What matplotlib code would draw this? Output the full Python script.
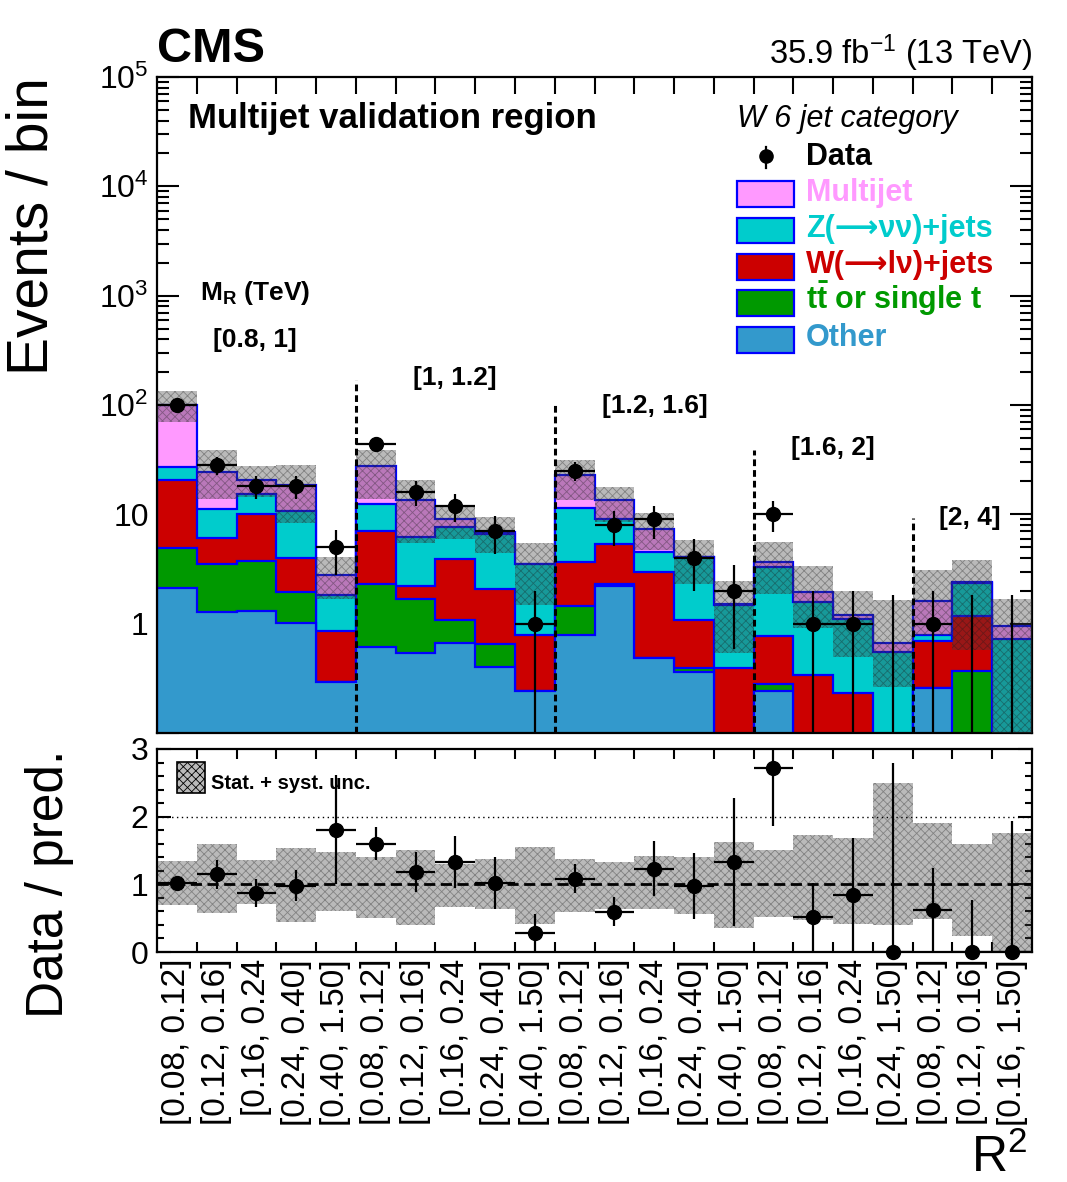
import numpy as np
import matplotlib
matplotlib.use('Agg')
import matplotlib.pyplot as plt
from matplotlib.ticker import FixedLocator, NullFormatter, FixedFormatter, MultipleLocator, LogLocator
from matplotlib.patches import Rectangle
from matplotlib.lines import Line2D

plt.rcParams['font.family'] = ['Liberation Sans', 'DejaVu Sans']
plt.rcParams['mathtext.fontset'] = 'custom'
plt.rcParams['mathtext.rm'] = 'Liberation Sans'
plt.rcParams['mathtext.it'] = 'Liberation Sans:italic'
plt.rcParams['mathtext.bf'] = 'Liberation Sans:bold'
plt.rcParams['hatch.linewidth'] = 0.6

# ---------------- data ----------------
r2_labels = [
    "[0.08, 0.12]", "[0.12, 0.16]", "[0.16, 0.24", "[0.24, 0.40]", "[0.40, 1.50]",
    "[0.08, 0.12]", "[0.12, 0.16]", "[0.16, 0.24", "[0.24, 0.40]", "[0.40, 1.50]",
    "[0.08, 0.12]", "[0.12, 0.16]", "[0.16, 0.24", "[0.24, 0.40]", "[0.40, 1.50]",
    "[0.08, 0.12]", "[0.12, 0.16]", "[0.16, 0.24", "[0.24, 1.50]",
    "[0.08, 0.12]", "[0.12, 0.16]", "[0.16, 1.50]",
]
mr_labels = ["[0.8, 1]", "[1, 1.2]", "[1.2, 1.6]", "[1.6, 2]", "[2, 4]"]

data = [101, 28, 18, 18, 5, 44, 16, 12, 7, 1, 25, 8, 9, 4, 2, 10, 1, 1, 0, 1, 0, 0]
zero_count_up = 1.84  # upper error shown for empty bins

other = [2.14, 1.28, 1.30, 1.01, 0.29, 0.61, 0.54, 0.67, 0.40, 0.24, 0.79, 2.19, 0.49, 0.36, 0.0,
         0.24, 0.0, 0.0, 0.0, 0.26, 0.0, 0.0]
ttbar = [2.79, 2.21, 2.47, 0.94, 0.0, 1.68, 1.13, 0.40, 0.25, 0.0, 0.66, 0.13, 0.0, 0.03, 0.0,
         0.04, 0.0, 0.0, 0.0, 0.0, 0.37, 0.0]
wjets = [15.6, 2.63, 6.33, 2.05, 0.56, 4.76, 0.54, 2.86, 1.41, 0.54, 2.22, 3.08, 2.51, 0.70, 0.39,
         0.49, 0.34, 0.23, 0.0, 0.43, 0.81, 0.0]
zjets = [6.7, 5.18, 5.4, 6.7, 0.99, 5.45, 3.99, 3.73, 4.6, 2.72, 7.73, 3.7, 1.5, 2.96, 1.09,
         2.53, 1.24, 0.88, 0.55, 0.10, 1.19, 0.73]
multijet = [72.4, 13.1, 5.0, 7.7, 0.93, 15.0, 7.4, 1.34, 0.24, 0.05, 11.7, 4.3, 2.8, 0.05, 0.02,
            0.37, 0.37, 0.08, 0.11, 0.82, 0.03, 0.22]

# relative (stat. + syst.) uncertainty band on the prediction
band_lo = [0.70, 0.57, 0.71, 0.45, 0.61, 0.50, 0.40, 0.66, 0.64, 0.42, 0.59, 0.64, 0.64, 0.56, 0.36,
           0.51, 0.47, 0.42, 0.40, 0.49, 0.24, 0.02]
band_hi = [1.34, 1.60, 1.36, 1.54, 1.48, 1.40, 1.51, 1.30, 1.38, 1.55, 1.37, 1.33, 1.42, 1.41, 1.63,
           1.51, 1.73, 1.68, 2.50, 1.91, 1.60, 1.76]

proc_names = ["Other", r"t$\mathbf{\bar{t}}$ or single t", "W(\u27f6l\u03bd)+jets",
              "Z(\u27f6\u03bd\u03bd)+jets", "Multijet"]
proc_colors = ['#3399cc', '#009900', '#cc0000', '#00cccc', '#ff99ff']

# ---------------- figure ----------------
W, H = 1067, 1182
fig = plt.figure(figsize=(W / 100, H / 100), dpi=100)


def fx(px):
    return px / W


def fy(py):
    return 1 - py / H


ax = fig.add_axes([fx(157), fy(733), (1032 - 157) / W, (733 - 77) / H])
axr = fig.add_axes([fx(157), fy(952), (1032 - 157) / W, (952 - 749) / H])

nb = len(data)
edges = np.arange(nb + 1)
centers = edges[:-1] + 0.5
floor = 1e-4

procs = np.array([other, ttbar, wjets, zjets, multijet], float)
cum = np.cumsum(procs, axis=0)
total = cum[-1]

ax.set_yscale('log')
for k in range(len(procs) - 1, -1, -1):
    vals = np.maximum(cum[k], floor)
    ax.stairs(vals, edges, baseline=floor, fill=True, facecolor=proc_colors[k],
              edgecolor='#0000ff', lw=1.6, zorder=2 + 0.1 * (len(procs) - k))

band_face = (0.25, 0.25, 0.25, 0.36)
band_hatch_col = (0.1, 0.1, 0.1, 0.35)
blo_abs = np.maximum(total * np.array(band_lo), floor)
bhi_abs = total * np.array(band_hi)
ax.stairs(bhi_abs, edges, baseline=blo_abs, fill=True, facecolor=band_face,
          edgecolor=band_hatch_col, hatch='xxxx', lw=0, zorder=3)

d = np.array(data, float)
err = np.sqrt(d)
has = d > 0
up = np.where(has, d + err, zero_count_up)
lo = np.where(has, np.maximum(d - err, floor), floor)
ax.vlines(centers, lo, up, color='k', lw=1.6, zorder=5)
ax.hlines(d[has], edges[:-1][has], edges[1:][has], color='k', lw=1.6, zorder=5)
ax.plot(centers[has], d[has], 'o', color='k', ms=10, zorder=6)

# dashed M_R separators
sep_pos = [5, 10, 15, 19]
sep_top = [380, 405, 450, 518]
for xs, yt in zip(sep_pos, sep_top):
    ax.axvline(xs, ymin=0, ymax=(733 - yt) / 656, color='k', lw=2.2,
               ls=(0, (2.2, 1.3)), zorder=7)

ax.set_xlim(0, nb)
ax.set_ylim(0.1, 1e5)
ax.xaxis.set_major_locator(FixedLocator(edges[1:-1]))
ax.xaxis.set_major_formatter(NullFormatter())
ax.yaxis.set_major_locator(FixedLocator([0.1, 1, 10, 100, 1e3, 1e4, 1e5]))
ax.yaxis.set_major_formatter(FixedFormatter(
    ['', '1', '10', r'$\mathregular{10^{2}}$', r'$\mathregular{10^{3}}$',
     r'$\mathregular{10^{4}}$', r'$\mathregular{10^{5}}$']))
ax.yaxis.set_minor_locator(LogLocator(base=10, subs=np.arange(2, 10)))
ax.yaxis.set_minor_formatter(NullFormatter())
ax.tick_params(axis='x', which='major', direction='in', top=True, bottom=True,
               length=12, width=1.5)
ax.tick_params(axis='y', which='major', direction='in', left=True, right=True,
               length=16, width=1.5, labelsize=23, pad=6)
ax.tick_params(axis='y', which='minor', direction='in', left=True, right=True,
               length=8.5, width=1.5)
for s in ax.spines.values():
    s.set_linewidth(1.6)

# ---------------- ratio ----------------
axr.stairs(band_hi, edges, baseline=band_lo, fill=True, facecolor=band_face,
           edgecolor=band_hatch_col, hatch='xxxx', lw=0, zorder=2)
axr.axhline(1, color='k', lw=2.0, ls=(0, (4, 2)), zorder=3)
axr.axhline(2, color='k', lw=1.0, ls=(0, (1, 2.5)), zorder=3)

ratio = d / total
r_up = (up - d) / total
r_lo = (d - np.where(has, np.maximum(d - err, 0), 0)) / total
axr.vlines(centers, ratio - r_lo, ratio + r_up, color='k', lw=1.6, zorder=5)
axr.hlines(ratio, edges[:-1], edges[1:], color='k', lw=1.6, zorder=5)
axr.plot(centers, ratio, 'o', color='k', ms=10, zorder=6, clip_on=False)

axr.set_xlim(0, nb)
axr.set_ylim(0, 3)
axr.yaxis.set_major_locator(FixedLocator([0, 1, 2, 3]))
axr.yaxis.set_minor_locator(MultipleLocator(0.2))
axr.xaxis.set_major_locator(FixedLocator(centers))
axr.xaxis.set_major_formatter(FixedFormatter(r2_labels))
axr.xaxis.set_minor_locator(FixedLocator(edges[1:-1]))
axr.tick_params(axis='x', which='major', length=0, pad=5, labelsize=24, labelrotation=90)
axr.tick_params(axis='x', which='minor', direction='in', top=True, bottom=True,
                length=7, width=1.5)
axr.tick_params(axis='y', which='major', direction='in', left=True, right=True,
                length=10, width=1.5, labelsize=23, pad=6)
axr.tick_params(axis='y', which='minor', direction='in', left=True, right=True,
                length=5, width=1.5)
for s in axr.spines.values():
    s.set_linewidth(1.6)

# band legend in ratio panel
fig.add_artist(Rectangle((fx(177), fy(793)), 28 / W, 31 / H, transform=fig.transFigure,
                         facecolor=band_face, edgecolor='k', hatch='xxxx', lw=1.2))
fig.text(fx(211), fy(789), "Stat. + syst. unc.", fontsize=14.5, fontweight='bold',
         va='baseline', ha='left')

# ---------------- texts ----------------
fig.text(fx(157), fy(62), "CMS", fontsize=35, fontweight='bold', va='baseline', ha='left')
fig.text(fx(1032), fy(64), r"35.9 fb$^{\mathregular{-1}}$ (13 TeV)", fontsize=23.5,
         va='baseline', ha='right')
fig.text(fx(188), fy(128), "Multijet validation region", fontsize=25, fontweight='bold',
         va='baseline', ha='left')
fig.text(fx(737), fy(127), "W 6 jet category", fontsize=22, style='italic',
         va='baseline', ha='left')

fig.text(fx(33), fy(77), "Events / bin", fontsize=41, rotation=90, ha='center', va='top')
fig.text(fx(50), fy(750), "Data / pred.", fontsize=37, rotation=90, ha='center', va='top')
fig.text(fx(1027), fy(1172), r"R$^{\mathregular{2}}$", fontsize=36, ha='right', va='baseline')

# M_R labels
fig.text(fx(200), fy(300), r"$\mathbf{M_{R}}$ (TeV)", fontsize=19, fontweight='bold',
         ha='left', va='baseline')
mr_pos = [(255, 340), (455, 378), (655, 406), (833, 448), (970, 518)]
for lab, (px, py) in zip(mr_labels, mr_pos):
    fig.text(fx(px), fy(py), lab, fontsize=19, fontweight='bold', ha='center', va='center')

# legend
fig.add_artist(Line2D([fx(766), fx(766)], [fy(147), fy(168)], transform=fig.transFigure,
                      color='k', lw=1.6))
fig.add_artist(Line2D([fx(766)], [fy(156)], transform=fig.transFigure, color='k',
                      marker='o', ms=9.5, ls='none'))
fig.text(fx(806), fy(165), "Data", fontsize=22, fontweight='bold', va='baseline', ha='left')
row_centers = [194, 231, 267, 303, 340]
for k, rc in zip([4, 3, 2, 1, 0], row_centers):
    fig.add_artist(Rectangle((fx(737), fy(rc + 12.5)), 57 / W, 25 / H,
                             transform=fig.transFigure, facecolor=proc_colors[k],
                             edgecolor='#0000ff', lw=1.6))
    fig.text(fx(806), fy(rc + 6.5), proc_names[k], fontsize=22, fontweight='bold',
             color=proc_colors[k], va='baseline', ha='left')

fig.savefig('out.png', dpi=100)
